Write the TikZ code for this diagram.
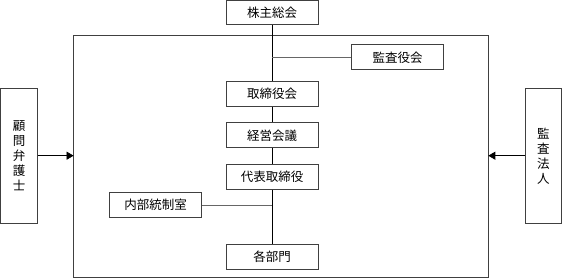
\documentclass[tikz,border=0pt]{standalone}
\usepackage{fontspec}
\newfontfamily\cjk{Noto Sans CJK JP}
\usetikzlibrary{arrows.meta}
\begin{document}
\begin{tikzpicture}[x=1pt,y=-1pt,
  box/.style={draw=black!75, line width=0.8pt, inner sep=0pt, font=\cjk\fontsize{12.5}{15}\selectfont},
  conn/.style={draw=black, line width=0.7pt},
  sconn/.style={draw=black!60, line width=0.7pt},
  arr/.style={draw=black, line width=0.7pt, -{Triangle[length=7pt,width=8pt]}}]
\useasboundingbox (0,0) rectangle (563,280);
\draw[draw=black!75, line width=0.8pt] (73.6,35.5) rectangle (488.3,277.5);
\node[box, minimum width=92pt, minimum height=24pt] (kabu) at (272.2,12.7) {株主総会};
\node[box, minimum width=92pt, minimum height=25pt] (kansa) at (397.6,57.3) {監査役会};
\node[box, minimum width=92pt, minimum height=25pt] (tori) at (272.2,93.7) {取締役会};
\node[box, minimum width=92pt, minimum height=25pt] (keiei) at (272.2,135.3) {経営会議};
\node[box, minimum width=92pt, minimum height=25pt] (daihyo) at (272.2,177) {代表取締役};
\node[box, minimum width=92pt, minimum height=25pt] (naibu) at (155.5,205) {内部統制室};
\node[box, minimum width=92pt, minimum height=25pt] (kaku) at (272.2,256.7) {各部門};
\node[box, minimum width=36.6pt, minimum height=135.4pt, align=center, font=\cjk\fontsize{12.5}{15}\selectfont] (komon) at (19,156) {顧\\問\\弁\\護\\士};
\node[box, minimum width=36pt, minimum height=135.4pt, align=center, font=\cjk\fontsize{12.5}{15}\selectfont] (hojin) at (543.3,156) {監\\査\\法\\人};
\coordinate (bl) at (73.6,155.7);
\coordinate (br) at (488.3,155.7);
\draw[conn] (kabu.south) -- (tori.north);
\draw[sconn] (kansa.west -| kabu.south) -- (kansa.west);
\draw[conn] (tori.south) -- (keiei.north);
\draw[conn] (keiei.south) -- (daihyo.north);
\draw[conn] (daihyo.south) -- (kaku.north);
\draw[sconn] (naibu.east) -- (naibu.east -| kaku.north);
\draw[arr] (komon.east |- bl) -- (bl);
\draw[arr] (hojin.west |- br) -- (br);
\end{tikzpicture}
\end{document}
